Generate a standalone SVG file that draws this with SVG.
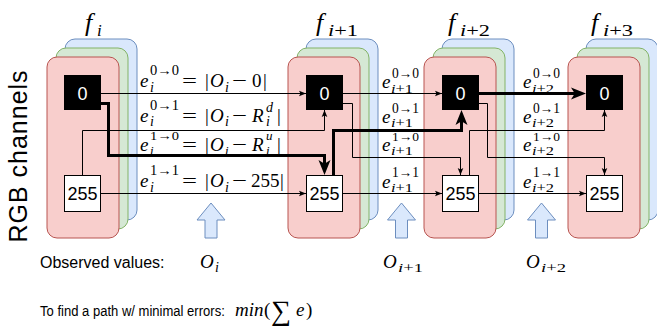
<svg xmlns="http://www.w3.org/2000/svg" width="657" height="328" viewBox="0 0 657 328">
<defs>
<style>
.r{fill:#f8cecc;stroke:#b85450;stroke-width:1}
.g{fill:#d5e8d4;stroke:#82b366;stroke-width:1}
.b{fill:#dae8fc;stroke:#6c8ebf;stroke-width:1}
.m{font-family:"Liberation Serif","DejaVu Serif",serif;font-size:19px;fill:#000}
.s{font-size:14px}
.ss{font-size:13px}
.it{font-style:italic}
.fl{font-size:26px}
.fs{font-size:17px}
.bt{font-family:"Liberation Sans",Arial,sans-serif;font-size:18px;text-anchor:middle}
.c{fill:none;stroke:#000;stroke-width:1}
.ck{fill:none;stroke:#000;stroke-width:3}
.sans{font-family:"Liberation Sans",Arial,sans-serif;fill:#000}
.ua{fill:#dae8fc;stroke:#6c8ebf;stroke-width:1}
</style>
<marker id="a" viewBox="0 0 10 10" refX="10" refY="5" markerWidth="7" markerHeight="7" markerUnits="userSpaceOnUse" orient="auto">
<path d="M0,1 L10,5 L0,9 L2,5 Z" fill="#000"/>
</marker>
<marker id="ak" viewBox="0 0 10 10" refX="6" refY="5" markerWidth="15" markerHeight="15" markerUnits="userSpaceOnUse" orient="auto">
<path d="M0,1 L10,5 L0,9 L2.5,5 Z" fill="#000"/>
</marker>
</defs>
<rect width="657" height="328" fill="#fff"/>

<g id="frame-i">
<rect class="b" x="65" y="39" width="72" height="181" rx="10"/>
<rect class="g" x="56" y="48" width="72" height="181" rx="10"/>
<rect class="r" x="47" y="57" width="72" height="181" rx="10"/>
</g>
<g id="frame-i1">
<rect class="b" x="306" y="39" width="72" height="181" rx="10"/>
<rect class="g" x="297" y="48" width="72" height="181" rx="10"/>
<rect class="r" x="288" y="57" width="72" height="181" rx="10"/>
</g>
<g id="frame-i2">
<rect class="b" x="442" y="39" width="72" height="181" rx="10"/>
<rect class="g" x="433" y="48" width="72" height="181" rx="10"/>
<rect class="r" x="424" y="57" width="72" height="181" rx="10"/>
</g>
<g id="frame-i3">
<rect class="b" x="586" y="39" width="72" height="181" rx="10"/>
<rect class="g" x="577" y="48" width="72" height="181" rx="10"/>
<rect class="r" x="568" y="57" width="72" height="181" rx="10"/>
</g>

<g id="frame-labels">
<text class="m it fl" x="85" y="31">f</text><text class="m it fs" x="97" y="36">i</text>
<text class="m it fl" x="316" y="31">f</text><text class="m fs" x="328" y="36" textLength="30" lengthAdjust="spacingAndGlyphs"><tspan class="it">i</tspan>+1</text>
<text class="m it fl" x="448" y="31">f</text><text class="m fs" x="460" y="36" textLength="30" lengthAdjust="spacingAndGlyphs"><tspan class="it">i</tspan>+2</text>
<text class="m it fl" x="591" y="31">f</text><text class="m fs" x="603" y="36" textLength="30" lengthAdjust="spacingAndGlyphs"><tspan class="it">i</tspan>+3</text>
</g>

<g id="labels-i">
<text class="m it" x="140" y="87">e</text><text class="m s" x="150" y="75" textLength="29" lengthAdjust="spacingAndGlyphs">0→0</text><text class="m s it" x="150" y="92">i</text>
<text class="m" x="182" y="87" textLength="15" lengthAdjust="spacingAndGlyphs">=</text><text class="m" x="205" y="87">|</text><text class="m it" x="210" y="87">O</text><text class="m s it" x="225" y="92">i</text><text class="m" x="232" y="87" textLength="15" lengthAdjust="spacingAndGlyphs">−</text><text class="m" x="252" y="87">0</text><text class="m" x="263" y="87">|</text>

<text class="m it" x="140" y="122">e</text><text class="m s" x="150" y="110" textLength="29" lengthAdjust="spacingAndGlyphs">0→1</text><text class="m s it" x="150" y="126">i</text>
<text class="m" x="182" y="122" textLength="15" lengthAdjust="spacingAndGlyphs">=</text><text class="m" x="205" y="122">|</text><text class="m it" x="210" y="122">O</text><text class="m s it" x="225" y="126">i</text><text class="m" x="232" y="122" textLength="15" lengthAdjust="spacingAndGlyphs">−</text><text class="m it" x="252" y="122">R</text><text class="m s it" x="266" y="112">d</text><text class="m s it" x="266" y="126">i</text><text class="m" x="277" y="122">|</text>

<text class="m it" x="140" y="151">e</text><text class="m ss" x="150" y="140" textLength="29" lengthAdjust="spacingAndGlyphs">1→0</text><text class="m ss it" x="150" y="155">i</text>
<text class="m" x="182" y="151" textLength="15" lengthAdjust="spacingAndGlyphs">=</text><text class="m" x="205" y="151">|</text><text class="m it" x="210" y="151">O</text><text class="m ss it" x="225" y="155">i</text><text class="m" x="232" y="151" textLength="15" lengthAdjust="spacingAndGlyphs">−</text><text class="m it" x="252" y="151">R</text><text class="m ss it" x="266" y="140">u</text><text class="m ss it" x="266" y="155">i</text><text class="m" x="277" y="151">|</text>

<text class="m it" x="140" y="187">e</text><text class="m s" x="150" y="175" textLength="29" lengthAdjust="spacingAndGlyphs">1→1</text><text class="m s it" x="150" y="192">i</text>
<text class="m" x="182" y="187" textLength="15" lengthAdjust="spacingAndGlyphs">=</text><text class="m" x="205" y="187">|</text><text class="m it" x="210" y="187">O</text><text class="m s it" x="225" y="192">i</text><text class="m" x="232" y="187" textLength="15" lengthAdjust="spacingAndGlyphs">−</text><text class="m" x="251" y="187">255</text><text class="m" x="280" y="187">|</text>
</g>

<g id="labels-i1">
<text class="m it" x="382" y="88">e</text><text class="m s" x="392" y="78" textLength="27" lengthAdjust="spacingAndGlyphs">0→0</text><text class="m ss" x="391" y="93" textLength="22" lengthAdjust="spacingAndGlyphs"><tspan class="it">i</tspan>+1</text>
<text class="m it" x="382" y="123">e</text><text class="m s" x="392" y="113" textLength="27" lengthAdjust="spacingAndGlyphs">0→1</text><text class="m ss" x="391" y="127" textLength="22" lengthAdjust="spacingAndGlyphs"><tspan class="it">i</tspan>+1</text>
<text class="m it" x="382" y="151">e</text><text class="m ss" x="392" y="141" textLength="27" lengthAdjust="spacingAndGlyphs">1→0</text><text class="m ss" x="391" y="155" textLength="22" lengthAdjust="spacingAndGlyphs"><tspan class="it">i</tspan>+1</text>
<text class="m it" x="382" y="188">e</text><text class="m s" x="392" y="177" textLength="27" lengthAdjust="spacingAndGlyphs">1→1</text><text class="m ss" x="391" y="192" textLength="22" lengthAdjust="spacingAndGlyphs"><tspan class="it">i</tspan>+1</text>
</g>

<g id="labels-i2">
<text class="m it" x="523" y="88">e</text><text class="m s" x="533" y="78" textLength="27" lengthAdjust="spacingAndGlyphs">0→0</text><text class="m ss" x="532" y="93" textLength="22" lengthAdjust="spacingAndGlyphs"><tspan class="it">i</tspan>+2</text>
<text class="m it" x="523" y="123">e</text><text class="m s" x="533" y="113" textLength="27" lengthAdjust="spacingAndGlyphs">0→1</text><text class="m ss" x="532" y="127" textLength="22" lengthAdjust="spacingAndGlyphs"><tspan class="it">i</tspan>+2</text>
<text class="m it" x="523" y="151">e</text><text class="m ss" x="533" y="141" textLength="27" lengthAdjust="spacingAndGlyphs">1→0</text><text class="m ss" x="532" y="155" textLength="22" lengthAdjust="spacingAndGlyphs"><tspan class="it">i</tspan>+2</text>
<text class="m it" x="523" y="188">e</text><text class="m s" x="533" y="177" textLength="27" lengthAdjust="spacingAndGlyphs">1→1</text><text class="m ss" x="532" y="192" textLength="22" lengthAdjust="spacingAndGlyphs"><tspan class="it">i</tspan>+2</text>
</g>

<g id="connectors">
<path class="c" d="M101,93.5 H306" marker-end="url(#a)"/>
<path class="c" d="M82.5,175 V130.5 H324.5 V110" marker-end="url(#a)"/>
<path class="c" d="M101,193.5 H306" marker-end="url(#a)"/>
<path class="c" d="M343,93.5 H442" marker-end="url(#a)"/>
<path class="c" d="M343,103.5 H352.5 V157.5 H460.5 V175" marker-end="url(#a)"/>
<path class="c" d="M343,193.5 H442" marker-end="url(#a)"/>
<path class="c" d="M479,103.5 H487.5 V157.5 H604.5 V175" marker-end="url(#a)"/>
<path class="c" d="M469.5,175 V130.5 H604.5 V110" marker-end="url(#a)"/>
<path class="c" d="M479,193.5 H586" marker-end="url(#a)"/>
<path class="ck" d="M101,103.5 H108.5 V155.5 H324.5 V169" marker-end="url(#ak)"/>
<path class="ck" d="M333.5,175 V130.5 H461.5 V116" marker-end="url(#ak)"/>
<path class="ck" d="M479,93.5 H580" marker-end="url(#ak)"/>
</g>

<g id="node-0-i"><rect x="64" y="75" width="37" height="35" fill="#000"/><text class="bt" x="82.5" y="100" fill="#fff">0</text></g>
<g id="node-255-i"><rect x="64.5" y="175.5" width="36" height="36" fill="#fff" stroke="#000"/><text class="bt" x="82.5" y="200">255</text></g>
<g id="node-0-i1"><rect x="306" y="75" width="37" height="35" fill="#000"/><text class="bt" x="324.5" y="100" fill="#fff">0</text></g>
<g id="node-255-i1"><rect x="306.5" y="175.5" width="36" height="36" fill="#fff" stroke="#000"/><text class="bt" x="324.5" y="200">255</text></g>
<g id="node-0-i2"><rect x="442" y="75" width="37" height="35" fill="#000"/><text class="bt" x="460.5" y="100" fill="#fff">0</text></g>
<g id="node-255-i2"><rect x="442.5" y="175.5" width="36" height="36" fill="#fff" stroke="#000"/><text class="bt" x="460.5" y="200">255</text></g>
<g id="node-0-i3"><rect x="586" y="75" width="37" height="35" fill="#000"/><text class="bt" x="604.5" y="100" fill="#fff">0</text></g>
<g id="node-255-i3"><rect x="586.5" y="175.5" width="36" height="36" fill="#fff" stroke="#000"/><text class="bt" x="604.5" y="200">255</text></g>

<g id="observations">
<path class="ua" d="M211,203 L225,220 L217,220 L217,238 L205,238 L205,220 L197,220 Z"/>
<path class="ua" d="M401.5,203 L415.5,220 L407.5,220 L407.5,238 L395.5,238 L395.5,220 L387.5,220 Z"/>
<path class="ua" d="M541.5,203 L555.5,220 L547.5,220 L547.5,238 L535.5,238 L535.5,220 L527.5,220 Z"/>
</g>

<text class="sans" x="27" y="156" transform="rotate(-90 27 156)" style="font-size:25px;letter-spacing:1px" text-anchor="middle">RGB channels</text>

<g id="bottom-text">
<text class="sans" x="40" y="268" style="font-size:16px">Observed values:</text>
<text class="m it" x="200" y="268">O</text><text class="m s it" x="215" y="272">i</text>
<text class="m it" x="383" y="268">O</text><text class="m ss" x="398" y="272" textLength="25" lengthAdjust="spacingAndGlyphs"><tspan class="it">i</tspan>+1</text>
<text class="m it" x="526" y="268">O</text><text class="m ss" x="541" y="272" textLength="25" lengthAdjust="spacingAndGlyphs"><tspan class="it">i</tspan>+2</text>
<text class="sans" x="0" y="0" transform="translate(40 316) scale(0.87 1)" style="font-size:15px">To find a path w/ minimal errors:</text>
<text class="m it" x="235" y="316">min</text><text class="m" x="264" y="316">(</text><text class="m" x="271" y="320" style="font-size:28px">∑</text><text class="m it" x="296" y="316">e</text><text class="m" x="306" y="316">)</text>
</g>
</svg>
